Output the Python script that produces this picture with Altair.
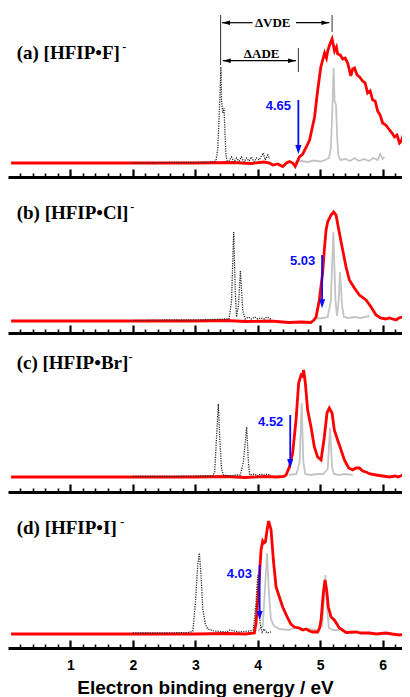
import altair as alt
import pandas as pd

# ---------------- data (E in eV, I = intensity, arbitrary units) -------------
red_a = [(0.05, 0), (1.0, 0), (2.0, 0), (3.0, 0), (3.6, 0.5), (3.9, -0.5), (4.1, 1), (4.19, 0),
         (4.24, -2), (4.32, -1), (4.40, -3.5), (4.46, 0), (4.51, 1.5), (4.56, 0), (4.60, -3.5),
         (4.665, 6), (4.72, 9), (4.77, 15), (4.83, 23), (4.91, 46), (4.96, 73), (5.01, 96),
         (5.07, 110), (5.10, 105), (5.12, 112), (5.15, 118), (5.19, 124), (5.23, 112), (5.26, 116),
         (5.28, 109), (5.32, 108), (5.36, 104), (5.40, 105), (5.44, 100), (5.49, 87), (5.52, 94),
         (5.55, 95), (5.59, 88), (5.63, 86), (5.68, 82), (5.72, 80), (5.76, 70), (5.80, 72),
         (5.84, 63), (5.88, 62), (5.92, 52), (5.96, 48), (6.00, 40), (6.05, 38), (6.11, 33),
         (6.15, 30), (6.19, 26), (6.23, 28), (6.27, 20), (6.30, 22), (6.32, 26), (6.36, 24), (6.40, 31)]
gray_a = [(4.60, 1), (4.70, 2), (4.80, 1), (4.90, 2.5), (5.00, 1.5), (5.08, 3), (5.14, 5), (5.17, 15),
          (5.19, 45), (5.215, 95), (5.23, 62), (5.254, 58), (5.27, 28), (5.29, 8), (5.32, 3),
          (5.40, 4), (5.48, 2), (5.55, 5), (5.62, 2), (5.70, 4), (5.78, 2), (5.85, 5), (5.92, 3),
          (5.96, 9), (6.00, 4), (6.03, 6)]
dot_a = [(2.0, 0), (2.6, 0.5), (3.0, 0.5), (3.25, 1), (3.33, 2), (3.36, 15), (3.39, 60), (3.41, 96),
         (3.42, 62), (3.44, 50), (3.46, 55), (3.475, 30), (3.49, 8), (3.51, 2), (3.54, 2), (3.58, 6),
         (3.62, 1), (3.66, 5), (3.70, 2), (3.74, 6), (3.78, 1), (3.82, 5), (3.86, 2), (3.90, 6),
         (3.94, 1), (3.98, 5), (4.02, 3), (4.06, 7), (4.09, 10), (4.12, 3), (4.16, 8), (4.19, 4)]

red_b = [(0.05, 0), (1.0, 0), (2.0, 0), (3.0, 0), (3.5, 0.5), (3.8, -0.5), (4.2, 0), (4.5, -1.5),
         (4.7, -1), (4.85, -1.5), (4.90, 1), (4.934, 4), (4.986, 21), (5.039, 48), (5.066, 71),
         (5.094, 91), (5.119, 99), (5.174, 106), (5.215, 109), (5.254, 106), (5.307, 88),
         (5.360, 71), (5.414, 54), (5.467, 41), (5.547, 33), (5.627, 26), (5.734, 21), (5.814, 14),
         (5.894, 6), (5.966, 3), (6.05, 2), (6.107, 3), (6.214, 1), (6.26, 3), (6.32, 4), (6.40, 4)]
gray_b = [(4.90, 3), (4.98, 2.5), (5.05, 3), (5.12, 4), (5.17, 20), (5.21, 89), (5.245, 20),
          (5.27, 5), (5.295, 20), (5.318, 49), (5.35, 15), (5.38, 4), (5.45, 3), (5.55, 4),
          (5.65, 3), (5.72, 4), (5.79, 5)]
dot_b = [(2.0, 0.5), (2.5, 1), (3.0, 1), (3.3, 1.5), (3.45, 2), (3.54, 2), (3.58, 20), (3.614, 89),
         (3.64, 30), (3.66, 4), (3.69, 15), (3.722, 50), (3.76, 10), (3.80, 2), (3.85, 4), (3.9, 2),
         (3.95, 4), (4.0, 2), (4.05, 3), (4.1, 2), (4.15, 4), (4.21, 2)]

red_c = [(0.05, 0), (1.0, 0), (2.0, 0), (3.0, 0), (3.5, 0.5), (3.8, -0.5), (4.1, 0.5), (4.3, 0),
         (4.42, 0.5), (4.453, 2), (4.506, 10), (4.559, 24), (4.613, 57), (4.655, 94), (4.693, 102),
         (4.715, 101), (4.735, 107), (4.762, 94), (4.799, 67), (4.853, 50), (4.906, 30),
         (4.959, 20), (5.014, 17), (5.066, 40), (5.109, 64), (5.146, 69), (5.19, 64), (5.226, 47),
         (5.279, 37), (5.334, 27), (5.387, 17), (5.456, 9), (5.52, 7), (5.57, 9), (5.627, 9),
         (5.68, 6), (5.734, 5), (5.80, 3), (5.894, 2), (6.0, 1), (6.107, 0), (6.2, 1), (6.25, 0),
         (6.32, 2), (6.37, 4), (6.40, 9)]
gray_c = [(4.50, 2), (4.62, 3), (4.67, 15), (4.703, 74), (4.73, 15), (4.76, 3), (4.85, 2), (4.95, 3),
          (5.05, 3), (5.12, 8), (5.157, 49), (5.19, 10), (5.22, 3), (5.30, 2), (5.40, 3), (5.52, 2)]
dot_c = [(2.0, 0.5), (2.6, 0.5), (3.0, 1), (3.28, 1), (3.31, 5), (3.34, 40), (3.369, 73), (3.39, 40),
         (3.42, 8), (3.45, 2), (3.55, 1), (3.65, 2), (3.72, 2), (3.77, 15), (3.80, 35), (3.822, 50),
         (3.85, 15), (3.87, 2), (3.95, 3), (4.0, 1), (4.05, 3), (4.1, 2), (4.15, 3), (4.21, 2)]

red_d = [(0.05, 0), (1.0, 0), (2.0, 0), (3.0, 0), (3.5, 0.5), (3.8, 0), (3.945, 1), (3.973, 11),
         (4.025, 57), (4.053, 84), (4.079, 93), (4.10, 91), (4.122, 92), (4.149, 104), (4.175, 113),
         (4.213, 104), (4.25, 74), (4.293, 47), (4.346, 37), (4.399, 27), (4.479, 16), (4.53, 10),
         (4.586, 7), (4.666, 6), (4.72, 4), (4.773, 5), (4.83, 3), (4.879, 2), (4.959, 2),
         (4.99, 6), (5.014, 14), (5.05, 41), (5.077, 54), (5.103, 44), (5.13, 27), (5.174, 17),
         (5.226, 14), (5.307, 6), (5.414, 1.5), (5.574, 2), (5.65, 1), (5.787, 1), (5.9, 0),
         (6.054, 1), (6.15, 0), (6.267, -1), (6.35, 0), (6.40, 3)]
gray_d = [(4.00, 3), (4.08, 8), (4.11, 40), (4.149, 81), (4.18, 40), (4.21, 15), (4.26, 8), (4.35, 5),
          (4.5, 4), (4.6, 6), (4.7, 4), (4.8, 5), (4.95, 4), (5.03, 8), (5.06, 35), (5.082, 59),
          (5.11, 25), (5.14, 6), (5.2, 4), (5.3, 4)]
dot_d = [(2.0, 1), (2.5, 1), (2.9, 1.5), (2.96, 3), (3.0, 30), (3.04, 70), (3.065, 81), (3.09, 60),
         (3.12, 25), (3.16, 10), (3.2, 5), (3.3, 3), (3.5, 2), (3.55, 4), (3.7, 2), (3.85, 3),
         (3.93, 4), (3.97, 30), (4.0, 59), (4.02, 40), (4.04, 10), (4.07, 2), (4.1, 5), (4.15, 1),
         (4.21, 2)]

panel_labels = ["(a) [HFIP•F]", "(b) [HFIP•Cl]", "(c) [HFIP•Br]", "(d) [HFIP•I]"]
panel_label_E = [0.139, 0.139, 0.139, 0.139]
panel_label_I = [110, 108, 114, 106]
superscript_E = [1.86, 1.99, 1.96, 1.83]
ade_values = [4.65, 5.03, 4.52, 4.03]
ade_text = ["4.65", "5.03", "4.52", "4.03"]
ade_arrow_top = [63, 66, 62, 69]
ade_arrow_tip = [9, 12.7, 9, 14]
ade_text_E = [4.533, 4.922, 4.410, 3.909]
ade_text_I = [57, 60, 55, 60]
y_domains = [(-14, 155), (-12, 144), (-15, 144), (-14, 142)]

# panel (a) annotation: delta VDE / delta ADE
guide_lines = [(3.405, 148, 98), (5.19, 148, 131), (4.65, 115, 91)]   # (E, I top, I bottom)
vde_segments = [(3.428, 3.918), (4.613, 5.146)]
vde_I = 140.3
ade_segment = (3.44, 4.613)
ade_I = 102.3
delta_texts = [("ΔVDE", 4.239, 140.3), ("ΔADE", 4.062, 109.5)]
left_heads = [(3.428, 140.3), (3.44, 102.3)]
right_heads = [(5.146, 140.3), (4.613, 102.3)]

major_ticks = [1, 2, 3, 4, 5, 6]
minor_ticks = [round(0.2 * k, 1) for k in range(1, 32) if k % 5 != 0]

series = [(red_a, gray_a, dot_a), (red_b, gray_b, dot_b), (red_c, gray_c, dot_c), (red_d, gray_d, dot_d)]

# ------------------------------------------------------------------------------------------------
X_MAX = 6.31
W = 394
xs = alt.Scale(domain=[0, X_MAX], nice=False, zero=False)
ARROW_DOWN = "M-0.65,-1.9 L0.65,-1.9 L0,0 Z"
ARROW_LEFT = "M0,0 L1.9,-0.55 L1.9,0.55 Z"
ARROW_RIGHT = "M0,0 L-1.9,-0.55 L-1.9,0.55 Z"


def make_panel(i):
    red, gray, dot = series[i]
    y0, y1 = y_domains[i]
    H = y1 - y0

    def shifted(frame, cols=("I",)):
        # vertical position inside the panel: intensity measured from the panel bottom
        frame = frame.copy()
        for c in cols:
            frame["P" + c] = frame[c] - y0
        return frame

    def df(points):
        return shifted(pd.DataFrame(points, columns=["E", "I"]))

    ys = alt.Scale(domain=[0, H], nice=False, zero=False)
    Y = alt.Y("PI:Q", scale=ys, axis=None)

    major_axis = alt.Axis(orient="bottom", values=major_ticks, tickSize=alt.ExprRef(expr="-8"),
                          tickWidth=2.2, tickColor="black", domain=True, domainWidth=3,
                          domainColor="black", labels=False, title=None, grid=False)
    minor_axis = alt.Axis(orient="bottom", values=minor_ticks, tickSize=alt.ExprRef(expr="-4"),
                          tickWidth=1.6, tickColor="black", domain=False, labels=False, title=None,
                          grid=False)
    if i == 3:
        dot_axis = alt.Axis(orient="bottom", values=major_ticks, ticks=False, domain=False,
                            labelFont="Liberation Sans", labelFontWeight="bold", labelFontSize=14,
                            labelColor="black", labelPadding=10, format="d",
                            title="Electron binding energy / eV", titleFont="Liberation Sans",
                            titleFontSize=19, titleFontWeight="bold", titleColor="black",
                            titlePadding=6, grid=False)
    else:
        dot_axis = None

    gray_l = alt.Chart(df(gray)).mark_line(color="#c4c4c4", strokeWidth=1.8, clip=True).encode(
        x=alt.X("E:Q", scale=xs, axis=major_axis), y=Y)
    red_l = alt.Chart(df(red)).mark_line(color="#ff0000", strokeWidth=2.8, clip=True).encode(
        x=alt.X("E:Q", scale=xs, axis=minor_axis), y=Y)
    dot_l = alt.Chart(df(dot)).mark_line(color="#2a2a2a", strokeWidth=1.3, strokeDash=[1.2, 1.2]).encode(
        x=alt.X("E:Q", scale=xs, axis=dot_axis), y=Y)

    X = alt.X("E:Q", scale=xs, axis=None)
    arrow_df = shifted(pd.DataFrame({"E": [ade_values[i]], "I": [ade_arrow_top[i]],
                                     "I2": [ade_arrow_tip[i] + 6]}), ("I", "I2"))
    arrow_rule = alt.Chart(arrow_df).mark_rule(color="#0a0aff", strokeWidth=1.8).encode(
        x=X, y=Y, y2="PI2:Q")
    head_df = shifted(pd.DataFrame({"E": [ade_values[i]], "I": [ade_arrow_tip[i]]}))
    arrow_head = alt.Chart(head_df).mark_point(shape=ARROW_DOWN, size=90, filled=True, opacity=1,
                                               color="#0a0aff", strokeWidth=0).encode(x=X, y=Y)
    val_df = shifted(pd.DataFrame({"E": [ade_text_E[i]], "I": [ade_text_I[i]], "t": [ade_text[i]]}))
    val_text = alt.Chart(val_df).mark_text(align="right", baseline="middle", font="Liberation Sans",
                                           fontWeight="bold", fontSize=13, color="#0a0aff").encode(
        x=X, y=Y, text="t:N")
    lab_df = shifted(pd.DataFrame({"E": [panel_label_E[i]], "I": [panel_label_I[i]], "t": [panel_labels[i]]}))
    lab_text = alt.Chart(lab_df).mark_text(align="left", baseline="middle", font="Liberation Serif",
                                           fontWeight="bold", fontSize=19, color="black").encode(
        x=X, y=Y, text="t:N")
    sup_df = shifted(pd.DataFrame({"E": [superscript_E[i]], "I": [panel_label_I[i] + 6], "t": ["-"]}))
    sup_text = alt.Chart(sup_df).mark_text(align="center", baseline="middle", font="Liberation Serif",
                                           fontWeight="bold", fontSize=12, color="black").encode(
        x=X, y=Y, text="t:N")

    layers = [gray_l, red_l, dot_l, arrow_rule, arrow_head, val_text, lab_text, sup_text]

    if i == 0:
        gl = shifted(pd.DataFrame(guide_lines, columns=["E", "I", "I2"]), ("I", "I2"))
        layers.append(alt.Chart(gl).mark_rule(color="#333333", strokeWidth=1).encode(x=X, y=Y, y2="PI2:Q"))
        segs = shifted(pd.DataFrame([(a, b, vde_I) for a, b in vde_segments]
                                    + [(ade_segment[0], ade_segment[1], ade_I)],
                                    columns=["E", "E2", "I"]))
        layers.append(alt.Chart(segs).mark_rule(color="black", strokeWidth=1.2).encode(x=X, x2="E2:Q", y=Y))
        lh = shifted(pd.DataFrame(left_heads, columns=["E", "I"]))
        layers.append(alt.Chart(lh).mark_point(shape=ARROW_LEFT, size=70, filled=True, opacity=1,
                                               color="black", strokeWidth=0).encode(x=X, y=Y))
        rh = shifted(pd.DataFrame(right_heads, columns=["E", "I"]))
        layers.append(alt.Chart(rh).mark_point(shape=ARROW_RIGHT, size=70, filled=True, opacity=1,
                                               color="black", strokeWidth=0).encode(x=X, y=Y))
        dt = shifted(pd.DataFrame(delta_texts, columns=["t", "E", "I"]))
        layers.append(alt.Chart(dt).mark_text(align="center", baseline="middle", font="Liberation Serif",
                                              fontWeight="bold", fontSize=13, color="black").encode(
            x=X, y=Y, text="t:N"))

    return alt.layer(*layers).resolve_axis(x="independent").properties(width=W, height=H)


chart = alt.vconcat(*[make_panel(i) for i in range(4)], spacing=0, bounds="flush").properties(
    padding=0).configure_view(stroke=None)

chart.save("out.html", embed_options={"renderer": "svg", "actions": False})
